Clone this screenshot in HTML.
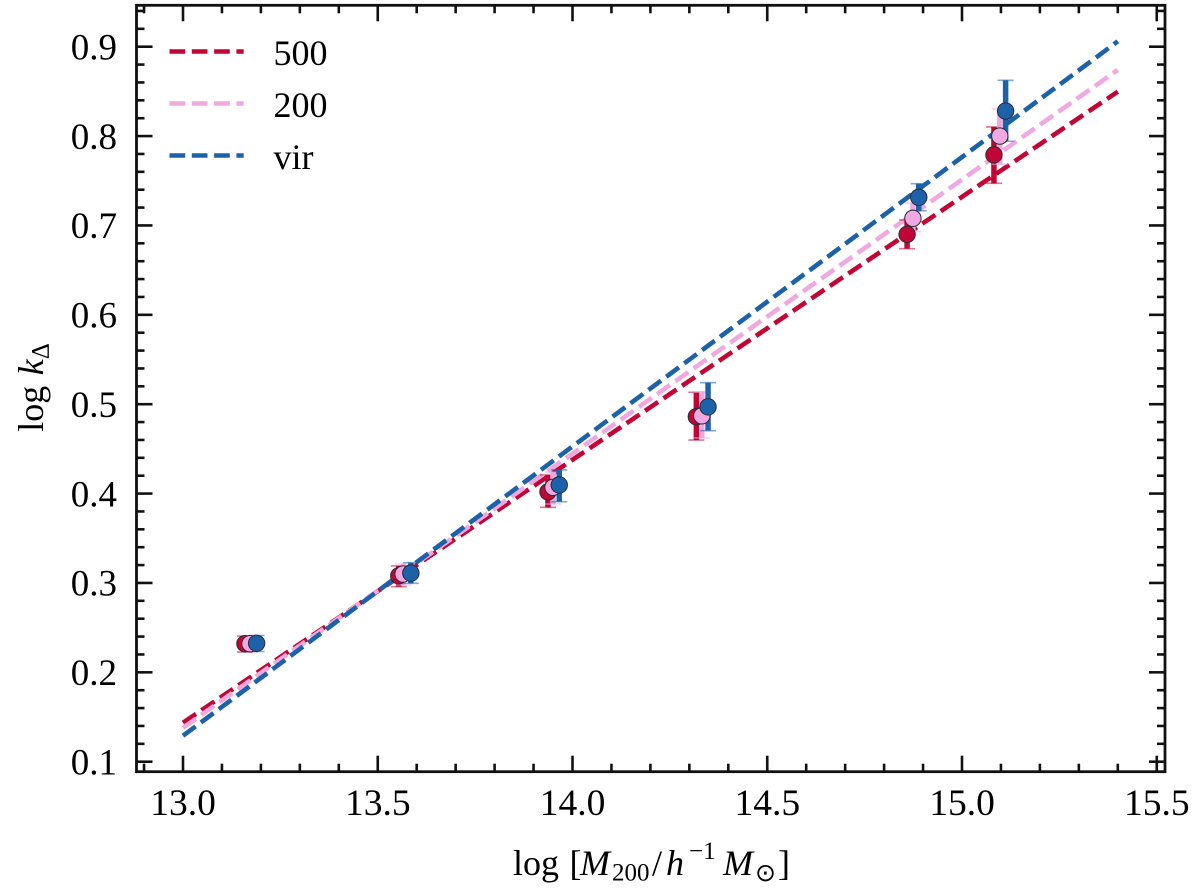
<!DOCTYPE html>
<html>
<head>
<meta charset="utf-8">
<title>log k vs log M200</title>
<style>
html,body{margin:0;padding:0;background:#fff;width:1200px;height:893px;overflow:hidden}
svg{display:block}
text{font-family:"Liberation Serif","DejaVu Serif",serif;fill:#000}
</style>
</head>
<body>
<svg id="chart" width="1200" height="893" viewBox="0 0 1200 893" xmlns="http://www.w3.org/2000/svg">
  <g id="lines"></g>
  <g id="bars"></g>
  <g id="points"></g>
  <g id="ticks"></g>
  <g id="labels"></g>
  <rect x="136.5" y="5.3" width="1028.5" height="766.4" fill="none" stroke="#111" stroke-width="2.8"/>
  <g>
    <g>
      <line x1="169.5" x2="243.7" y1="51.5" y2="51.5" stroke="#c10534" stroke-width="4.6" stroke-dasharray="15.7 6.6"/>
      <text x="273.5" y="65" font-size="36">500</text>
    </g>
    <g>
      <line x1="169.5" x2="243.7" y1="103.5" y2="103.5" stroke="#efa9e0" stroke-width="4.6" stroke-dasharray="15.7 6.6"/>
      <text x="273.5" y="117" font-size="36">200</text>
    </g>
    <g>
      <line x1="169.5" x2="243.7" y1="155.5" y2="155.5" stroke="#1c62a8" stroke-width="4.6" stroke-dasharray="15.7 6.6"/>
      <text x="273.5" y="169" font-size="36">vir</text>
    </g>
  </g>
  <text font-size="36"><tspan x="513" y="875">log</tspan><tspan x="569.5" y="875">[</tspan><tspan x="580" y="875" font-style="italic">M</tspan><tspan x="612" y="880.5" font-size="25">200</tspan><tspan x="652" y="875">/</tspan><tspan x="666" y="875" font-style="italic">h</tspan><tspan x="689" y="859" font-size="25">−1</tspan><tspan x="723" y="875" font-style="italic">M</tspan><tspan x="755" y="881" font-size="25" style="font-family:'DejaVu Sans',sans-serif">⊙</tspan><tspan x="778" y="875">]</tspan></text>
  <g transform="translate(43,431.7) rotate(-90)">
    <text font-size="36"><tspan x="0" y="0">log</tspan><tspan x="56.5" y="0" font-style="italic">k</tspan><tspan x="72.5" y="5.5" font-size="25">Δ</tspan></text>
  </g>
</svg>
<script>
var xTicks = [13.0, 13.5, 14.0, 14.5, 15.0, 15.5];
var yTicks = [0.1, 0.2, 0.3, 0.4, 0.5, 0.6, 0.7, 0.8, 0.9];
var xTickLabels = ['13.0', '13.5', '14.0', '14.5', '15.0', '15.5'];
var yTickLabels = ['0.1', '0.2', '0.3', '0.4', '0.5', '0.6', '0.7', '0.8', '0.9'];

var seriesNames = ['500', '200', 'vir'];
var lineMass = [13.0, 15.4];
var line500 = [0.1436, 0.8497];
var line200 = [0.138, 0.874];
var lineVir = [0.129, 0.906];

var mass500 = [13.159, 13.554, 13.937, 14.318, 14.859, 15.082];
var mass200 = [13.172, 13.565, 13.950, 14.332, 14.874, 15.097];
var massVir = [13.189, 13.585, 13.966, 14.348, 14.889, 15.112];

var k500 = [0.232, 0.308, 0.402, 0.486, 0.690, 0.779];
var k200 = [0.232, 0.310, 0.407, 0.487, 0.708, 0.800];
var kVir = [0.2325, 0.311, 0.4096, 0.497, 0.7315, 0.828];

var high500 = [0.2406, 0.319, 0.4208, 0.5133, 0.7061, 0.8102];
var low500 = [0.2227, 0.2958, 0.3846, 0.4599, 0.674, 0.7471];
var high200 = [0.2406, 0.3212, 0.4241, 0.5136, 0.7252, 0.8306];
var low200 = [0.2227, 0.2977, 0.3883, 0.4622, 0.693, 0.7684];
var highVir = [0.2412, 0.3227, 0.4264, 0.5241, 0.7467, 0.8624];
var lowVir = [0.2233, 0.2996, 0.3909, 0.4704, 0.7165, 0.7942];

var NS = 'http://www.w3.org/2000/svg';
function xScale(v) { return 183 + (v - 13) * 389.5; }
function yScale(v) { return 761.7 - (v - 0.1) * 893.75; }
function make(tag, attrs, parent) {
  var el = document.createElementNS(NS, tag);
  for (var key in attrs) { el.setAttribute(key, attrs[key]); }
  parent.appendChild(el);
  return el;
}
var colors = ['#c10534', '#efa9e0', '#1c62a8'];
var lineValues = [line500, line200, lineVir];
var massValues = [mass500, mass200, massVir];
var kValues = [k500, k200, kVir];
var highValues = [high500, high200, highVir];
var lowValues = [low500, low200, lowVir];

var gLines = document.getElementById('lines');
var gBars = document.getElementById('bars');
var gPoints = document.getElementById('points');
var gTicks = document.getElementById('ticks');
var gLabels = document.getElementById('labels');

seriesNames.forEach(function (name, s) {
  var fit = make('line', {
    x1: xScale(lineMass[0]), y1: yScale(lineValues[s][0]),
    x2: xScale(lineMass[1]), y2: yScale(lineValues[s][1]),
    stroke: colors[s], 'stroke-width': 4.6, 'stroke-dasharray': '15.7 6.6'
  }, gLines);
  
  

  massValues[s].forEach(function (m, i) {
    var px = xScale(m);
    var top = yScale(highValues[s][i]);
    var bottom = yScale(lowValues[s][i]);
    var bar = make('line', {
      x1: px, x2: px, y1: top, y2: bottom,
      stroke: colors[s], 'stroke-width': 5.5
    }, gBars);
    
    
    var capTop = make('line', {
      x1: px - 8, x2: px + 8, y1: top, y2: top,
      stroke: colors[s], 'stroke-width': 1.6, opacity: 0.55
    }, gBars);
    
    
    var capBottom = make('line', {
      x1: px - 8, x2: px + 8, y1: bottom, y2: bottom,
      stroke: colors[s], 'stroke-width': 1.6, opacity: 0.55
    }, gBars);
    
    
  });
});

seriesNames.forEach(function (name, s) {
  massValues[s].forEach(function (m, i) {
    var dot = make('circle', {
      cx: xScale(m), cy: yScale(kValues[s][i]), r: 8.2,
      fill: colors[s], stroke: '#2a2a3a', 'stroke-width': 1
    }, gPoints);
    
    
  });
});

var left = 136.5, right = 1165, topEdge = 5.3, bottomEdge = 771.7;
function tickLine(x1, y1, x2, y2, name) {
  var t = make('line', { x1: x1, y1: y1, x2: x2, y2: y2, stroke: '#111', 'stroke-width': 2.6 }, gTicks);
  
  
}
xTicks.forEach(function (v, i) {
  var px = xScale(v);
  tickLine(px, bottomEdge, px, bottomEdge - 16, 'x-major-tick');
  tickLine(px, topEdge, px, topEdge + 16, 'x-major-tick-top');
  var label = make('text', { x: px, y: 815, 'font-size': 37.5, 'text-anchor': 'middle' }, gLabels);
  label.textContent = xTickLabels[i];
  
  
});
for (var n = 129; n <= 155; n++) {
  if (n % 5 === 0) { continue; }
  var mx = xScale(n / 10);
  tickLine(mx, bottomEdge, mx, bottomEdge - 8, 'x-minor-tick');
  tickLine(mx, topEdge, mx, topEdge + 8, 'x-minor-tick-top');
}
yTicks.forEach(function (v, i) {
  var py = yScale(v);
  tickLine(left, py, left + 16, py, 'y-major-tick');
  tickLine(right, py, right - 16, py, 'y-major-tick-right');
  var label = make('text', { x: 117, y: py + 12.7, 'font-size': 37, 'text-anchor': 'end' }, gLabels);
  label.textContent = yTickLabels[i];
  
  
});
for (var q = 5; q <= 47; q++) {
  if (q % 5 === 0) { continue; }
  var my = yScale(q / 50);
  tickLine(left, my, left + 8, my, 'y-minor-tick');
  tickLine(right, my, right - 8, my, 'y-minor-tick-right');
}
</script>
</body>
</html>
